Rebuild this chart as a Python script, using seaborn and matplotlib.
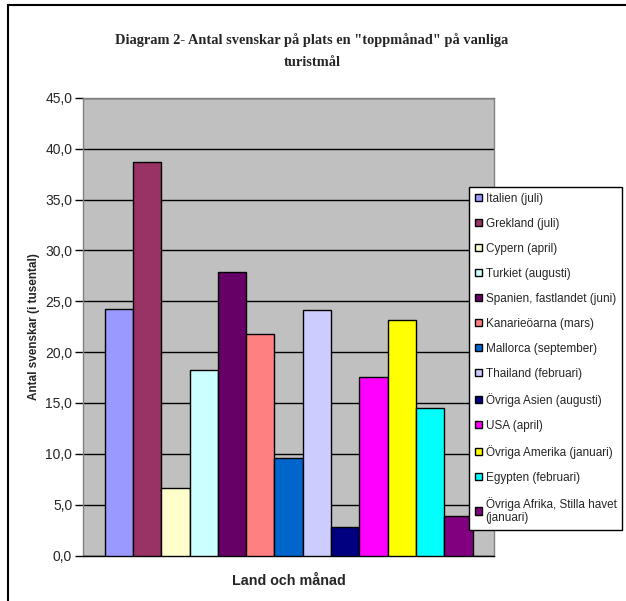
import matplotlib
matplotlib.use("Agg")
import matplotlib.pyplot as plt
from matplotlib.patches import Rectangle
from matplotlib.ticker import FixedLocator, FixedFormatter
import seaborn as sns
import pandas as pd

# Destinations with their peak month, and Swedes on site (thousands)
destinations = [
    "Italien (juli)",
    "Grekland (juli)",
    "Cypern (april)",
    "Turkiet (augusti)",
    "Spanien, fastlandet (juni)",
    "Kanarieöarna (mars)",
    "Mallorca (september)",
    "Thailand (februari)",
    "Övriga Asien (augusti)",
    "USA (april)",
    "Övriga Amerika (januari)",
    "Egypten (februari)",
    "Övriga Afrika, Stilla havet\n(januari)",
]
visitors = [24.2, 38.7, 6.6, 18.2, 27.9, 21.8, 9.6, 24.1, 2.8, 17.6, 23.2, 14.5, 3.9]
colors = [
    "#9999FF", "#993366", "#FFFFCC", "#CCFFFF", "#660066", "#FF8080", "#0066CC",
    "#CCCCFF", "#000080", "#FF00FF", "#FFFF00", "#00FFFF", "#800080",
]
y_ticks = [0, 5, 10, 15, 20, 25, 30, 35, 40, 45]
y_tick_labels = ["0,0", "5,0", "10,0", "15,0", "20,0", "25,0", "30,0", "35,0", "40,0", "45,0"]

title = 'Diagram 2- Antal svenskar på plats en "toppmånad" på vanliga\nturistmål'
x_label = "Land och månad"
y_label = "Antal svenskar (i tusental)"

df = pd.DataFrame({"grupp": [""] * len(destinations),
                   "destination": destinations,
                   "antal": visitors})

sns.set_theme(style="white")
plt.rcParams["font.family"] = ["Liberation Sans", "DejaVu Sans"]

fig = plt.figure(figsize=(6.26, 6.01), dpi=100)
ax = fig.add_axes([83.3 / 626, 45.5 / 601, (494 - 83.3) / 626, (555.5 - 98) / 601])
ax.set_facecolor("#C0C0C0")

sns.barplot(data=df, x="grupp", y="antal", hue="destination",
            hue_order=destinations, palette=colors, width=0.896,
            edgecolor="black", linewidth=1.0, saturation=1, ax=ax,
            legend=True, zorder=3)

ax.set_xlim(-0.5, 0.5)
ax.set_ylim(0, 45)
ax.yaxis.set_major_locator(FixedLocator(y_ticks))
ax.yaxis.set_major_formatter(FixedFormatter(y_tick_labels))
ax.grid(axis="y", color="black", linewidth=1.0, zorder=0)
ax.set_axisbelow(True)
ax.set_xticks([])
ax.tick_params(axis="y", direction="out", length=6, width=1, color="black",
               labelsize=10, pad=2, left=True)
for side in ["top", "right", "left"]:
    ax.spines[side].set_color("#808080")
    ax.spines[side].set_linewidth(1.0)
ax.spines["bottom"].set_color("black")
ax.spines["bottom"].set_linewidth(1.0)

ax.set_xlabel(x_label, fontsize=10.3, fontweight="bold", labelpad=13)
ax.set_ylabel(y_label, fontsize=8.5, fontweight="bold", labelpad=4)

handles, labels = ax.get_legend_handles_labels()
ax.get_legend().remove()
leg = fig.legend(handles, labels, loc="upper left",
                 bbox_to_anchor=(469 / 626, 1 - 187 / 601),
                 bbox_transform=fig.transFigure, fontsize=8.5,
                 frameon=True, fancybox=False, framealpha=1,
                 edgecolor="black", handlelength=0.6, handleheight=0.6,
                 handletextpad=0.3, labelspacing=1.10, borderpad=0.5,
                 borderaxespad=0)
leg.get_frame().set_linewidth(1.0)
for h in leg.legend_handles:
    h.set_edgecolor("black")
    h.set_linewidth(1.0)

fig.text(312 / 626, 1 - 51 / 601, title, ha="center", va="center",
         fontsize=10.4, fontweight="bold", family=["Liberation Serif", "DejaVu Serif"],
         linespacing=1.9)

# Outer chart frame
fig.add_artist(Rectangle((8 / 626, -0.1), 1.2, 1 - 5 / 601 + 0.1,
                         transform=fig.transFigure, fill=False,
                         edgecolor="black", linewidth=1.5, zorder=10))

fig.savefig("out.png", dpi=100)
